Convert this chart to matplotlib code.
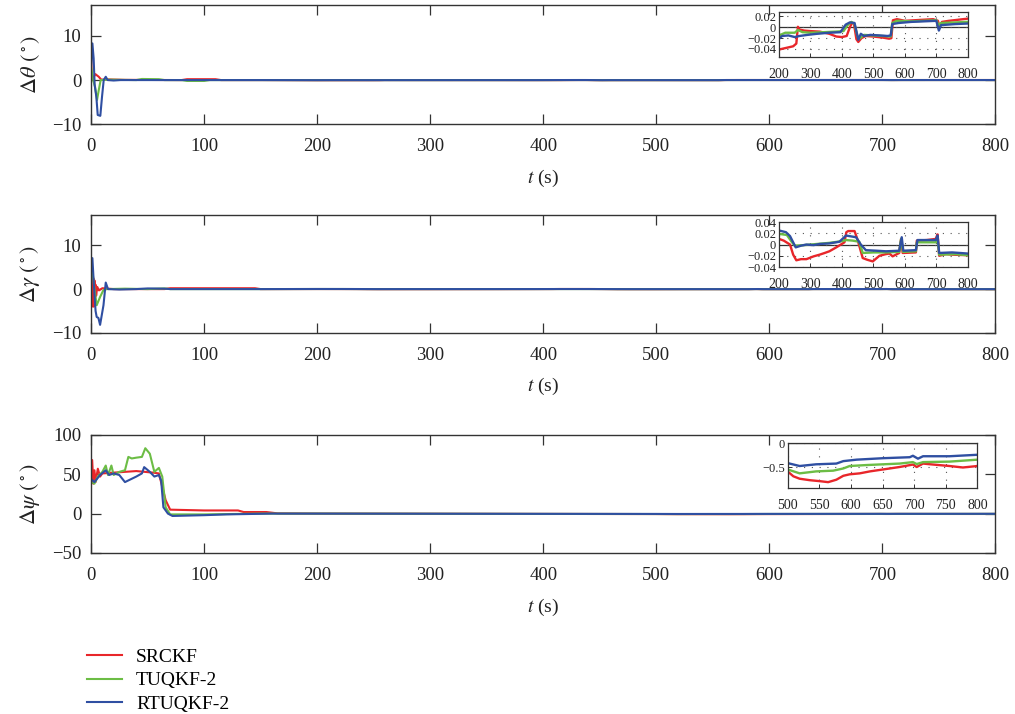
import numpy as np
import matplotlib.pyplot as plt
from matplotlib.lines import Line2D

plt.rcParams['font.family'] = ['Liberation Serif', 'DejaVu Serif']
plt.rcParams['mathtext.fontset'] = 'stix'

RED = '#e8262a'
GREEN = '#6cbd45'
BLUE = '#2f4fa2'
names = ['SRCKF', 'TUQKF-2', 'RTUQKF-2']

# ---- data: (time s, error deg) ----
theta_red = [(0, 6), (0.6, 0), (2, 0.5), (3.8, 1.35), (6.8, 0.75), (9, 0.1), (15, 0.15), (30, 0.05),
             (80, 0), (85, 0.2), (110, 0.2), (115, 0), (150, 0),
             (200, -0.041), (215, -0.039), (230, -0.037), (245, -0.035), (255, -0.03), (260, 0.001),
             (265, -0.004), (280, -0.006), (300, -0.007), (330, -0.008), (360, -0.012), (382, -0.017),
             (400, -0.018), (415, -0.016), (425, 0.0), (432, 0.008), (438, 0.007), (446, -0.022),
             (452, -0.027), (462, -0.02), (475, -0.016), (500, -0.017), (530, -0.019), (550, -0.021),
             (557, -0.02), (562, 0.013), (575, 0.015), (600, 0.012), (630, 0.013), (660, 0.014),
             (690, 0.015), (705, 0.012), (710, 0.002), (718, 0.01), (740, 0.012), (770, 0.014), (800, 0.016)]
theta_green = [(0, 3), (1.8, 0), (3.5, -1.5), (5.3, -4.5), (6.8, -2.3), (8.5, 0), (15, 0.1), (40, 0),
               (45, 0.25), (60, 0.2), (65, 0), (80, 0), (85, -0.2), (100, -0.2), (105, 0), (150, 0),
               (200, -0.015), (220, -0.01), (250, -0.01), (260, -0.005), (275, -0.009), (300, -0.01),
               (340, -0.009), (380, -0.008), (405, -0.007), (418, 0.004), (430, 0.01), (440, 0.006),
               (450, -0.018), (458, -0.02), (470, -0.014), (500, -0.015), (530, -0.016), (555, -0.017),
               (560, 0.008), (575, 0.012), (620, 0.011), (660, 0.012), (700, 0.013), (707, 0.004),
               (715, 0.008), (760, 0.009), (800, 0.01)]
theta_blue = [(0, 3), (1.2, 8.3), (2.3, 4.9), (3.2, -1.1), (4.7, -3.8), (5.9, -7.9), (8.2, -8.1),
              (9.7, -3.8), (11.2, 0), (13, 0.75), (14.7, 0), (20, -0.1), (26, 0), (150, 0),
              (200, -0.021), (210, -0.016), (230, -0.015), (250, -0.018), (265, -0.016), (290, -0.014),
              (320, -0.012), (360, -0.01), (395, -0.009), (412, 0.005), (425, 0.009), (440, 0.008),
              (452, -0.023), (460, -0.012), (470, -0.016), (490, -0.014), (520, -0.015), (545, -0.016),
              (555, -0.015), (560, 0.006), (580, 0.008), (620, 0.01), (660, 0.011), (700, 0.012),
              (708, -0.006), (715, 0.004), (760, 0.006), (800, 0.007)]

gamma_red = [(0, 4), (0.5, -3), (1, 3), (1.5, -4), (2, 2.5), (2.5, -4), (3, 2), (3.5, -3), (4, 1),
             (4.5, -1.5), (5.5, 0.5), (7, -0.3), (10, 0.2), (20, 0), (65, 0), (70, 0.2), (145, 0.2),
             (150, 0), (200, 0.01), (215, 0.007), (235, 0.0), (245, -0.018), (255, -0.028),
             (270, -0.026), (287, -0.026), (310, -0.021), (329, -0.018), (345, -0.015), (360, -0.012),
             (382, -0.005), (408, 0.004), (414, 0.022), (420, 0.024), (440, 0.024), (450, 0.008),
             (466, -0.024), (480, -0.027), (498, -0.03), (519, -0.02), (540, -0.017), (551, -0.016),
             (561, -0.021), (575, -0.017), (582, -0.015), (588, 0.01), (593, -0.015), (635, -0.014),
             (638, 0.007), (670, 0.008), (698, 0.01), (704, 0.018), (709, -0.02), (730, -0.017),
             (751, -0.018), (800, -0.019)]
gamma_green = [(0, 5), (1.3, 4), (3, 0), (5, -3.7), (8, -1.8), (11, -0.2), (14, 0), (30, 0.1), (50, 0),
               (65, 0.15), (70, 0), (150, 0), (200, 0.019), (225, 0.017), (240, 0.005), (250, -0.002),
               (280, -0.001), (320, 0.001), (360, 0.003), (400, 0.006), (413, 0.008), (434, 0.007),
               (455, 0.005), (466, -0.015), (500, -0.014), (540, -0.014), (582, -0.013), (588, 0.01),
               (594, -0.013), (635, -0.012), (638, 0.004), (698, 0.004), (704, 0.01), (709, -0.018),
               (760, -0.017), (800, -0.019)]
gamma_blue = [(0, 4), (1.2, 7.1), (2.5, 1), (4, -5), (5, -6.4), (6.5, -6.6), (8, -8.2), (11, -3.7),
              (13, 1.5), (15, 0), (25, -0.1), (40, 0), (50, 0.15), (65, 0.1), (70, 0), (150, 0),
              (200, 0.025), (222, 0.022), (235, 0.015), (253, -0.005), (270, -0.002), (287, 0.0),
              (310, -0.001), (329, 0.001), (360, 0.002), (392, 0.005), (413, 0.016), (445, 0.013),
              (460, 0.0), (476, -0.01), (510, -0.011), (540, -0.012), (582, -0.011), (590, 0.013),
              (595, -0.011), (635, -0.01), (640, 0.008), (698, 0.008), (704, 0.016), (709, -0.015),
              (750, -0.014), (800, -0.016)]

psi_red = [(0, 42), (1, 68), (2, 38), (3, 55), (4, 40), (6, 57), (8, 47), (10, 51), (20, 52), (40, 54),
           (55, 52), (60, 51), (63, 34), (66, 17), (70, 5), (100, 4), (130, 4), (135, 2), (155, 2),
           (165, 0.3), (200, 0), (300, -0.2), (400, -0.4), (500, -0.58), (509, -0.68), (519, -0.73),
           (535, -0.76), (551, -0.78), (564, -0.8), (577, -0.75), (588, -0.67), (598, -0.64),
           (614, -0.62), (630, -0.58), (651, -0.54), (677, -0.49), (698, -0.44), (704, -0.49),
           (714, -0.42), (730, -0.44), (756, -0.47), (777, -0.5), (800, -0.47)]
psi_green = [(0, 40), (3, 38), (6, 47), (10, 53), (13, 61), (15, 49), (18, 61), (20, 49), (25, 53),
             (30, 55), (33, 72), (36, 70), (40, 71), (45, 72), (48, 83), (52, 76), (56, 53), (60, 58),
             (63, 47), (66, 8), (70, -1), (100, -1), (150, 0), (200, 0), (300, -0.2), (400, -0.4),
             (500, -0.54), (519, -0.62), (545, -0.58), (572, -0.565), (588, -0.52), (598, -0.47),
             (625, -0.45), (651, -0.435), (677, -0.42), (698, -0.39), (704, -0.43), (714, -0.39),
             (756, -0.38), (800, -0.34)]
psi_blue = [(0, 44), (3, 40), (8, 49), (13, 55), (16, 49), (20, 51), (25, 49), (30, 40), (40, 47),
            (45, 51), (47, 59), (52, 53), (56, 47), (60, 49), (62, 42), (64, 8), (68, 0), (72, -3),
            (100, -2), (120, -1), (160, 0), (200, 0), (300, -0.15), (400, -0.3), (500, -0.41),
            (519, -0.47), (545, -0.435), (577, -0.42), (588, -0.37), (609, -0.34), (651, -0.31),
            (693, -0.29), (698, -0.26), (706, -0.32), (714, -0.27), (756, -0.27), (800, -0.24)]

panels = [
    dict(series=[theta_red, theta_green, theta_blue], ylabel=r'$\Delta\theta\ (^\circ)$',
         ylim=(-10, 17), yticks=[-10, 0, 10], ax_rect=[0.0897, 0.826, 0.891, 0.167],
         in_rect=[0.7675, 0.920, 0.186, 0.063], in_xlim=(200, 800), in_ylim=(-0.055, 0.028),
         in_yticks=[-0.04, -0.02, 0, 0.02], in_xticks=range(200, 801, 100)),
    dict(series=[gamma_red, gamma_green, gamma_blue], ylabel=r'$\Delta\gamma\ (^\circ)$',
         ylim=(-10, 17), yticks=[-10, 0, 10], ax_rect=[0.0897, 0.534, 0.891, 0.165],
         in_rect=[0.7675, 0.626, 0.186, 0.063], in_xlim=(200, 800), in_ylim=(-0.04, 0.04),
         in_yticks=[-0.04, -0.02, 0, 0.02, 0.04], in_xticks=range(200, 801, 100)),
    dict(series=[psi_red, psi_green, psi_blue], ylabel=r'$\Delta\psi\ (^\circ)$',
         ylim=(-50, 100), yticks=[-50, 0, 50, 100], ax_rect=[0.0897, 0.2255, 0.891, 0.1655],
         in_rect=[0.776, 0.3165, 0.187, 0.063], in_xlim=(500, 800), in_ylim=(-0.92, 0),
         in_yticks=[-0.5, 0], in_xticks=range(500, 801, 50)),
]
colors = [RED, GREEN, BLUE]

fig = plt.figure(figsize=(10.15, 7.14), dpi=100)

for p in panels:
    ax = fig.add_axes(p['ax_rect'])
    for data, c in zip(p['series'], colors):
        t, v = np.array(data).T
        ax.plot(t, v, color=c, lw=1.5)
    ax.set_xlim(0, 800)
    ax.set_ylim(*p['ylim'])
    ax.set_yticks(p['yticks'])
    ax.set_xticks(range(0, 801, 100))
    ax.tick_params(direction='in', top=True, right=True, length=7, width=0.9,
                   labelsize=13.5, colors='#333333', labelcolor='#222222')
    ax.tick_params(axis='x', pad=10)
    ax.tick_params(axis='y', pad=7)
    for s in ax.spines.values():
        s.set_color('#333333')
        s.set_linewidth(1.0)
    ax.set_xlabel(r'$t$ (s)', fontsize=14, labelpad=9, color='#222222')
    ax.set_ylabel(p['ylabel'], fontsize=16, labelpad=7, color='#222222')

    # zoomed inset
    ins = fig.add_axes(p['in_rect'])
    for data, c in zip(p['series'], colors):
        t, v = np.array(data).T
        ins.plot(t, v, color=c, lw=1.7)
    ins.axhline(0, color='#333333', lw=0.9, zorder=0)
    ins.set_xlim(*p['in_xlim'])
    ins.set_ylim(*p['in_ylim'])
    ins.set_xticks(list(p['in_xticks']))
    ins.set_yticks(p['in_yticks'])
    ins.set_yticklabels([('%g' % y).replace('-', '\u2212') for y in p['in_yticks']])
    ins.grid(True, color='#555555', linestyle=(0, (1, 6)), lw=0.8)
    ins.tick_params(direction='in', length=3, width=0.7, labelsize=9, colors='#333333',
                    labelcolor='#222222')
    ins.tick_params(axis='x', pad=8, labelsize=10)
    ins.tick_params(axis='y', pad=2)
    for s in ins.spines.values():
        s.set_color('#333333')
        s.set_linewidth(0.9)

handles = [Line2D([], [], color=c, lw=1.5) for c in colors]
fig.legend(handles, names, loc='upper left', bbox_to_anchor=(0.086, 0.092), frameon=False,
           fontsize=14, handlelength=1.8, handletextpad=0.7, labelspacing=0.3,
           borderaxespad=0, borderpad=0)

fig.savefig('out.png', dpi=100)
